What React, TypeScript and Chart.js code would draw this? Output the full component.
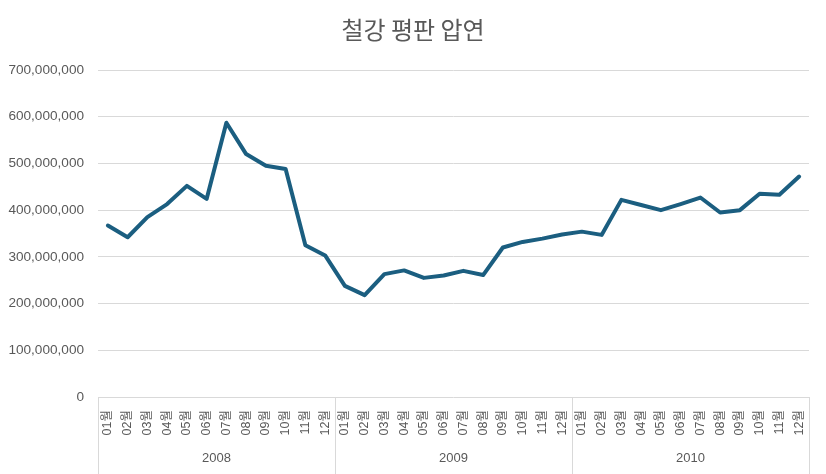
import React, { useEffect, useRef } from "react";
import { Chart, registerables } from "chart.js";

Chart.register(...registerables);

const TITLE = "철강 평판 압연";
const years = ["2008", "2009", "2010"];
const months = ["01", "02", "03", "04", "05", "06", "07", "08", "09", "10", "11", "12"];
const values2008 = [367000000, 342000000, 385000000, 413000000, 452000000, 424000000, 587000000, 520000000, 495000000, 488000000, 325000000, 303000000];
const values2009 = [238000000, 218000000, 263000000, 271000000, 255000000, 260000000, 270000000, 261000000, 320000000, 332000000, 339000000, 348000000];
const values2010 = [354000000, 347000000, 422000000, 411000000, 400000000, 413000000, 427000000, 395000000, 400000000, 435000000, 433000000, 472000000];
const yTicks = [0, 100000000, 200000000, 300000000, 400000000, 500000000, 600000000, 700000000];

const TEXT = "#595959";
const GRID = "#d9d9d9";
const LINE = "#1b5e80";
const FONT = "'Liberation Sans', Arial, 'Noto Sans CJK KR', sans-serif";

export default function App() {
  const ref = useRef<HTMLCanvasElement | null>(null);

  useEffect(() => {
    const canvas = ref.current;
    if (!canvas) return;
    const labels: string[] = [];
    years.forEach(() => months.forEach((m) => labels.push(m + "월")));
    const data = [...values2008, ...values2009, ...values2010];

    const groupPlugin = {
      id: "groupLabels",
      afterDraw(chart: any) {
        const ctx = chart.ctx;
        const xs = chart.scales.x;
        const area = chart.chartArea;
        const n = labels.length;
        const step = (xs.getPixelForValue(n - 1) - xs.getPixelForValue(0)) / (n - 1);
        const bottom = chart.height;
        ctx.save();
        ctx.strokeStyle = GRID;
        ctx.lineWidth = 1;
        ctx.fillStyle = TEXT;
        ctx.font = "13px " + FONT;
        ctx.textAlign = "center";
        ctx.textBaseline = "middle";
        years.forEach((yr, gi) => {
          const first = gi * months.length;
          const last = first + months.length - 1;
          const x0 = xs.getPixelForValue(first) - step / 2;
          const x1 = xs.getPixelForValue(last) + step / 2;
          [x0, x1].forEach((x) => {
            const px = Math.round(x) + 0.5;
            ctx.beginPath();
            ctx.moveTo(px, area.bottom);
            ctx.lineTo(px, bottom);
            ctx.stroke();
          });
          ctx.fillText(yr, (x0 + x1) / 2, 458);
        });
        ctx.restore();
      },
    };

    const chart = new Chart(canvas, {
      type: "line",
      data: {
        labels,
        datasets: [
          {
            data,
            borderColor: LINE,
            backgroundColor: LINE,
            borderWidth: 4,
            pointRadius: 0,
            pointHoverRadius: 0,
            tension: 0,
            borderJoinStyle: "round",
            borderCapStyle: "round",
            fill: false,
          },
        ],
      },
      options: {
        responsive: false,
        animation: false,
        layout: { padding: 0 },
        plugins: {
          legend: { display: false },
          tooltip: { enabled: false },
          title: {
            display: true,
            text: TITLE,
            color: TEXT,
            font: { family: "'Noto Sans CJK KR', sans-serif", size: 24, weight: "normal" },
            padding: { top: 15, bottom: 26.2 },
          },
        },
        scales: {
          x: {
            offset: true,
            grid: { display: false, drawTicks: false, offset: true },
            border: { display: false },
            ticks: {
              autoSkip: false,
              minRotation: 90,
              maxRotation: 90,
              color: TEXT,
              padding: 13,
              font: { family: FONT, size: 12.5 },
            },
            afterFit(scale: any) {
              scale.height = 77;
              scale.paddingLeft = 0;
              scale.paddingRight = 17;
            },
          },
          y: {
            min: 0,
            max: 700000000,
            grid: { color: GRID, drawTicks: false, lineWidth: 1 },
            border: { display: false },
            afterBuildTicks(scale: any) {
              scale.ticks = yTicks.map((v) => ({ value: v }));
            },
            ticks: {
              color: TEXT,
              padding: 14,
              font: { family: FONT, size: 13.6 },
              callback: (v: any) => Number(v).toLocaleString("en-US"),
            },
            afterFit(scale: any) {
              scale.width = 98;
            },
          },
        },
      },
      plugins: [groupPlugin],
    } as any);

    return () => chart.destroy();
  }, []);

  return (
    <div style={{ position: "fixed", left: 0, top: 0, width: 826, height: 474, background: "#ffffff" }}>
      <canvas ref={ref} width={826} height={474} style={{ display: "block", width: 826, height: 474 }} />
    </div>
  );
}
